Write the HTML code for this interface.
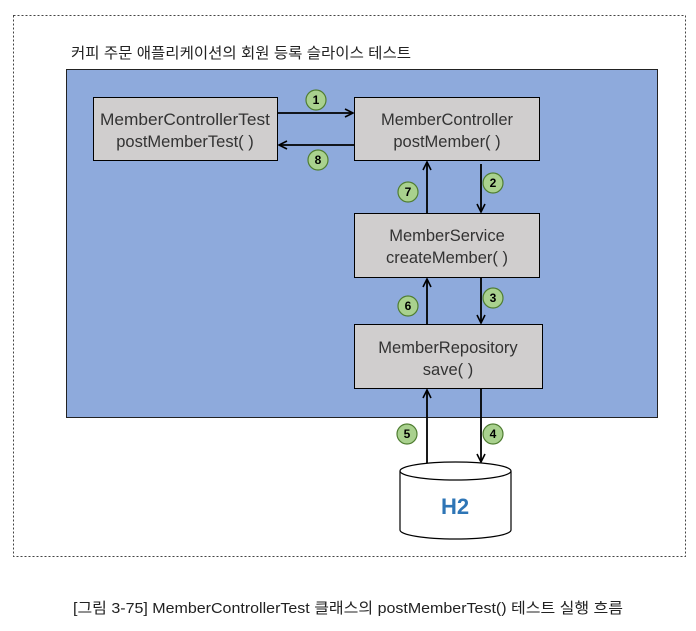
<!DOCTYPE html>
<html><head><meta charset="utf-8"><style>
body{margin:0;background:#fff;width:696px;height:631px;overflow:hidden}
svg{display:block}
text{font-family:"Liberation Sans","Noto Sans CJK KR",sans-serif}
</style></head><body>
<svg width="696" height="631" viewBox="0 0 696 631">
<defs><marker id="a" markerWidth="10" markerHeight="10" refX="9" refY="5" orient="auto" markerUnits="userSpaceOnUse"><path d="M1,1 L9,5 L1,9" fill="none" stroke="#000" stroke-width="1.6"/></marker></defs>
<rect x="13.5" y="15.5" width="672" height="541" fill="none" stroke="#444" stroke-dasharray="2,2"/>
<text x="71" y="58" font-size="15" fill="#222" textLength="340" lengthAdjust="spacingAndGlyphs">커피 주문 애플리케이션의 회원 등록 슬라이스 테스트</text>
<rect x="66.5" y="69.5" width="591" height="348" fill="#8eaadc" stroke="#222"/>
<g fill="#d0cece" stroke="#000" stroke-width="1">
<rect x="93.5" y="97.5" width="184" height="63"/>
<rect x="354.5" y="97.5" width="185" height="63"/>
<rect x="354.5" y="213.5" width="185" height="64"/>
<rect x="354.5" y="324.5" width="188" height="64"/>
</g>
<g font-size="16.5" fill="#333" text-anchor="middle">
<text x="185" y="125" textLength="170" lengthAdjust="spacingAndGlyphs">MemberControllerTest</text><text x="185" y="147">postMemberTest( )</text>
<text x="447" y="125">MemberController</text><text x="447" y="147">postMember( )</text>
<text x="447" y="241">MemberService</text><text x="447" y="263">createMember( )</text>
<text x="448" y="353">MemberRepository</text><text x="448" y="375">save( )</text>
</g>
<g stroke="#000" stroke-width="1.8" marker-end="url(#a)">
<line x1="278" y1="113" x2="353" y2="113"/>
<line x1="354" y1="145" x2="279" y2="145"/>
<line x1="481" y1="164" x2="481" y2="212"/>
<line x1="427" y1="213" x2="427" y2="162"/>
<line x1="481" y1="278" x2="481" y2="323"/>
<line x1="427" y1="324" x2="427" y2="279"/>
<line x1="481" y1="389" x2="481" y2="462"/>
<line x1="427" y1="463" x2="427" y2="390"/>
</g>
<path d="M400,471 L400,530 A55.5,9 0 0 0 511,530 L511,471" fill="#fff" stroke="#000" stroke-width="1.2"/>
<ellipse cx="455.5" cy="471" rx="55.5" ry="9" fill="#fff" stroke="#000" stroke-width="1.2"/>
<text x="455" y="514" font-size="22" font-weight="bold" fill="#2e75b6" text-anchor="middle">H2</text>
<g font-size="12" font-weight="bold" text-anchor="middle">
<g fill="#a9d18e" stroke="#507e32" stroke-width="1.2">
<circle cx="316" cy="100" r="10"/><circle cx="318" cy="160" r="10"/>
<circle cx="408" cy="192" r="10"/><circle cx="493" cy="183" r="10"/>
<circle cx="408" cy="306" r="10"/><circle cx="493" cy="298" r="10"/>
<circle cx="407" cy="434" r="10"/><circle cx="493" cy="434" r="10"/>
</g>
<text x="316" y="104">1</text><text x="318" y="164">8</text>
<text x="408" y="196">7</text><text x="493" y="187">2</text>
<text x="408" y="310">6</text><text x="493" y="302">3</text>
<text x="407" y="438">5</text><text x="493" y="438">4</text>
</g>
<text x="348" y="613" font-size="15" fill="#222" text-anchor="middle" textLength="550" lengthAdjust="spacingAndGlyphs">[그림 3-75] MemberControllerTest 클래스의 postMemberTest() 테스트 실행 흐름</text>
</svg>
</body></html>
